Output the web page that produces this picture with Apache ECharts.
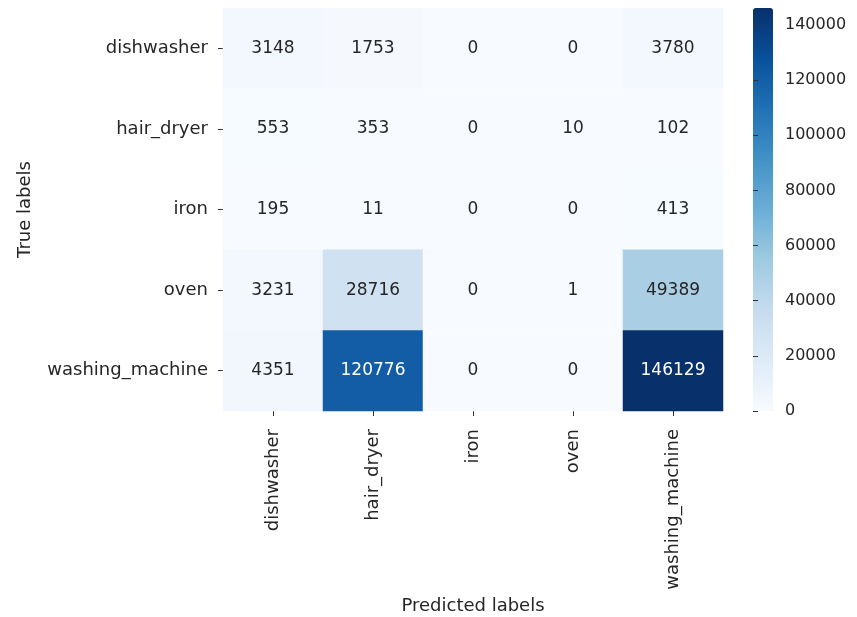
<!DOCTYPE html>
<html>
<head>
<meta charset="utf-8">
<script src="https://cdn.jsdelivr.net/npm/echarts@6/dist/echarts.min.js"></script>
<style>
  html, body { margin: 0; padding: 0; background: #ffffff; }
  #chart { width: 857px; height: 617px; }
</style>
</head>
<body>
<div id="chart"></div>
<script>
// Class names shared by both axes of the confusion matrix
const predictedLabels = ['dishwasher', 'hair_dryer', 'iron', 'oven', 'washing_machine'];
const trueLabels = ['dishwasher', 'hair_dryer', 'iron', 'oven', 'washing_machine'];

// One row of counts per true label, columns follow predictedLabels
const rowDishwasher = [3148, 1753, 0, 0, 3780];
const rowHairDryer = [553, 353, 0, 10, 102];
const rowIron = [195, 11, 0, 0, 413];
const rowOven = [3231, 28716, 0, 1, 49389];
const rowWashingMachine = [4351, 120776, 0, 0, 146129];
const matrixRows = [rowDishwasher, rowHairDryer, rowIron, rowOven, rowWashingMachine];

// Colour bar tick values
const colorbarTicks = [0, 20000, 40000, 60000, 80000, 100000, 120000, 140000];

// Blues colour ramp
const blues = ['#f7fbff', '#deebf7', '#c6dbef', '#9ecae1', '#6baed6', '#4292c6', '#2171b5', '#08519c', '#08306b'];

const allValues = matrixRows.flat();
const vMin = 0;
const vMax = Math.max(...allValues);

const FONT = 'DejaVu Sans';
const DARK = '#262626';

// Heatmap cells; counts on dark cells are written in white
const cells = [];
matrixRows.forEach((row, r) => {
  row.forEach((v, c) => {
    const light = v / vMax > 0.6;
    cells.push({
      value: [c, r, v],
      label: { color: light ? '#ffffff' : DARK }
    });
  });
});

const chart = echarts.init(document.getElementById('chart'), null, { renderer: 'canvas' });

chart.setOption({
  backgroundColor: '#ffffff',
  animation: false,
  grid: [
    { left: 223, top: 8, width: 500, height: 403, outerBoundsMode: 'none', containLabel: false },
    { left: 753, top: 8, width: 20, height: 403, outerBoundsMode: 'none', containLabel: false }
  ],
  xAxis: [
    {
      gridIndex: 0,
      type: 'category',
      data: predictedLabels,
      name: 'Predicted labels',
      nameLocation: 'middle',
      nameGap: 186,
      nameTextStyle: { fontFamily: FONT, fontSize: 18, color: DARK },
      axisLine: { show: false },
      axisTick: { show: true, alignWithLabel: true, length: 5, lineStyle: { color: '#333333', width: 1 } },
      axisLabel: { rotate: 90, margin: 18, fontFamily: FONT, fontSize: 18, color: DARK },
      splitLine: { show: false },
      splitArea: { show: false }
    },
    {
      gridIndex: 1,
      type: 'value',
      show: false
    }
  ],
  yAxis: [
    {
      gridIndex: 0,
      type: 'category',
      data: trueLabels,
      inverse: true,
      name: 'True labels',
      nameLocation: 'middle',
      nameGap: 189,
      nameRotate: 90,
      nameTextStyle: { fontFamily: FONT, fontSize: 18, color: DARK },
      axisLine: { show: false },
      axisTick: { show: true, alignWithLabel: true, length: 5, lineStyle: { color: '#333333', width: 1 } },
      axisLabel: { margin: 15, fontFamily: FONT, fontSize: 18, color: DARK },
      splitLine: { show: false },
      splitArea: { show: false }
    },
    {
      gridIndex: 1,
      type: 'value',
      position: 'right',
      z: 10,
      min: vMin,
      max: vMax,
      interval: colorbarTicks[1] - colorbarTicks[0],
      axisLine: { show: false },
      axisTick: { show: true, inside: false, length: 5, lineStyle: { color: '#333333', width: 1 } },
      axisLabel: {
        margin: 12,
        showMaxLabel: false,
        fontFamily: FONT,
        fontSize: 16,
        color: DARK,
        formatter: (v) => colorbarTicks.includes(v) ? String(v) : ''
      },
      splitLine: { show: false }
    }
  ],
  visualMap: {
    type: 'continuous',
    seriesIndex: 0,
    min: vMin,
    max: vMax,
    calculable: false,
    orient: 'vertical',
    left: 753,
    top: 8,
    padding: 0,
    itemWidth: 20,
    itemHeight: 403,
    text: ['', ''],
    showLabel: false,
    z: 1,
    inRange: { color: blues }
  },
  series: [
    {
      type: 'heatmap',
      xAxisIndex: 0,
      yAxisIndex: 0,
      data: cells,
      itemStyle: { borderWidth: 0 },
      label: {
        show: true,
        fontFamily: FONT,
        fontSize: 17,
        formatter: (p) => String(p.value[2])
      },
      emphasis: { disabled: true }
    }
  ]
});
</script>
</body>
</html>
